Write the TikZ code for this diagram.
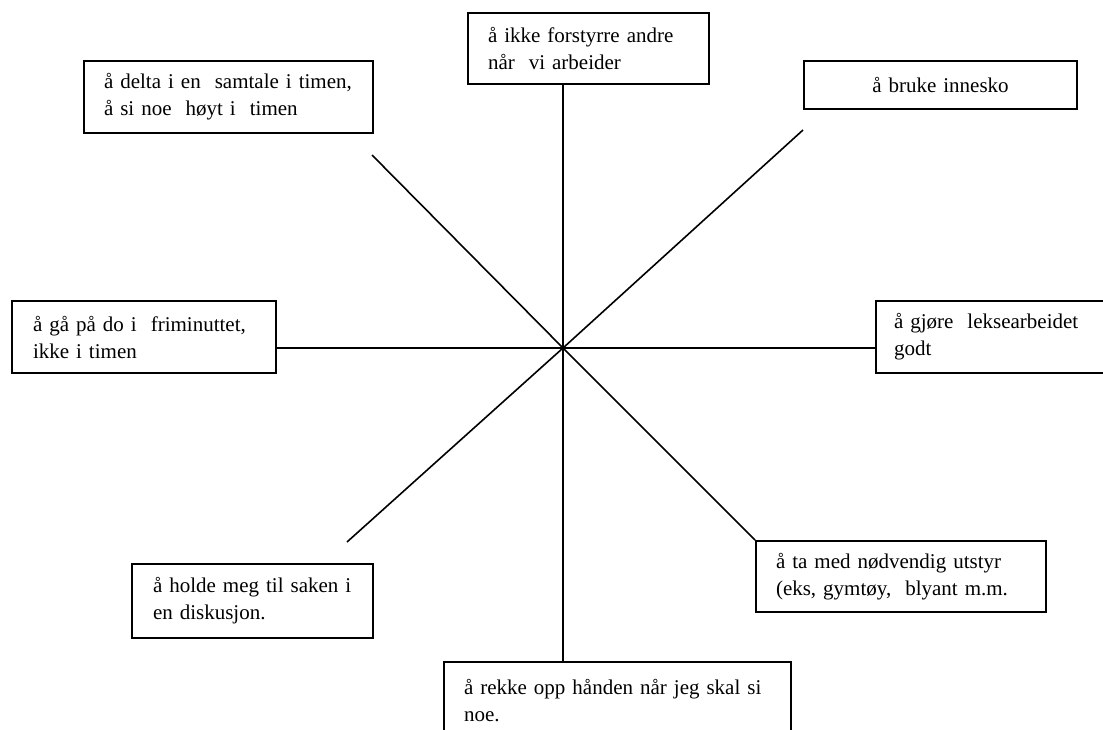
\documentclass[tikz,border=0pt]{standalone}
\usepackage{fontspec}
\setmainfont{Liberation Serif}
\begin{document}
\begin{tikzpicture}[x=0.5pt,y=-0.5pt,
  box/.style={draw, line width=1pt, anchor=north west, align=left,
    font=\fontsize{10.5}{13.5}\selectfont, inner ysep=0pt, inner xsep=10pt},
  spoke/.style={line width=0.8pt}]
\useasboundingbox (0,0) rectangle (1103,729);
\fill[white] (0,0) rectangle (1103,729);
\clip (0,0) rectangle (1103,729);
% boxes
\node[box, minimum width=120.5pt, minimum height=35.5pt, text width=100.5pt] (top) at (467,12)
  {å ikke forstyrre andre\\når\ \ vi arbeider};
\node[box, minimum width=144.5pt, minimum height=36pt, text width=124.5pt] (tl) at (83,60)
  {å delta i en\ \ samtale i timen,\\å si noe\ \ høyt i\ \ timen};
\node[box, minimum width=136.5pt, minimum height=24pt, text width=126.5pt, inner xsep=5pt, align=center] (tr) at (803,60)
  {å bruke innesko};
\node[box, minimum width=132pt, minimum height=36pt, text width=111pt, inner xsep=10.5pt] (left) at (11,300)
  {å gå på do i\ \ friminuttet,\\ikke i timen};
\node[box, minimum width=117.5pt, minimum height=36pt, text width=99.5pt, inner xsep=9pt] (right) at (875,300)
  {å gjøre\ \ leksearbeidet\\godt};
\node[box, minimum width=120.5pt, minimum height=37pt, text width=99.5pt, inner xsep=10.5pt] (bl) at (131,563)
  {å holde meg til saken i\\en diskusjon.};
\node[box, minimum width=145pt, minimum height=35.5pt, text width=125pt] (br) at (755,540)
  {å ta med nødvendig utstyr\\(eks, gymtøy,\ \ blyant m.m.};
\node[box, minimum width=173.5pt, minimum height=39pt, text width=153.5pt] (bot) at (443,661)
  {å rekke opp hånden når jeg skal si\\noe.};
% spokes
\coordinate (c) at (563,348);
\coordinate (tlend) at (372,155);
\coordinate (trend) at (803,130);
\coordinate (blend) at (347,542);
\draw[spoke] (c) -- (c |- top.south);
\draw[spoke] (c) -- (c |- bot.north);
\draw[spoke] (c) -- (c -| left.east);
\draw[spoke] (c) -- (c -| right.west);
\draw[spoke] (c) -- (tlend);
\draw[spoke] (c) -- (trend);
\draw[spoke] (c) -- (blend);
\draw[spoke] (c) -- (br.north west);
\end{tikzpicture}
\end{document}
